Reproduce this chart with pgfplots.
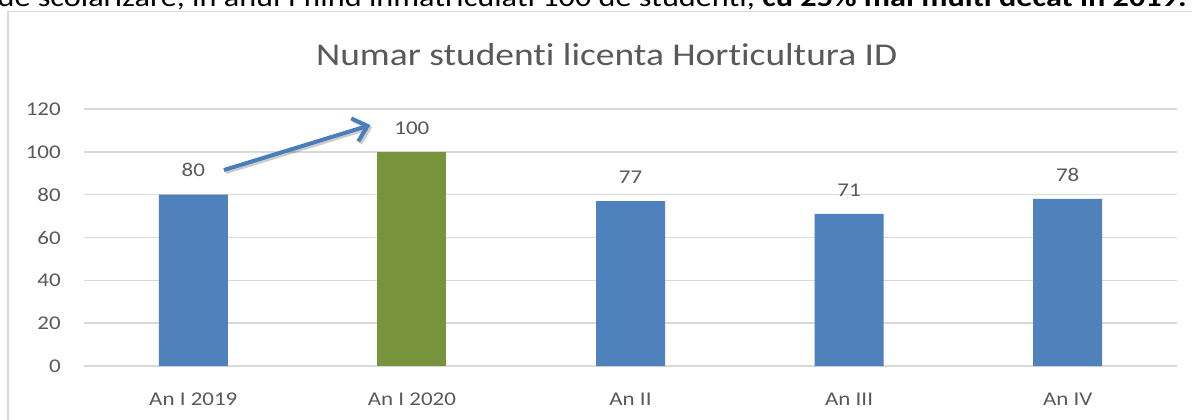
\documentclass[border=0pt]{standalone}
\usepackage{fontspec}
\setmainfont{Carlito}[FakeStretch=1.18, Ligatures=NoCommon]
\usepackage{pgfplots}
\pgfplotsset{compat=1.18}
\usetikzlibrary{arrows.meta}
\definecolor{barblue}{HTML}{4F81BD}
\definecolor{bargreen}{HTML}{77933C}
\definecolor{gridgray}{HTML}{D9D9D9}
\definecolor{txtgray}{HTML}{595959}
\definecolor{arrowblue}{HTML}{4A7EBB}
\begin{document}
\begin{tikzpicture}
\path[use as bounding box] (0pt,0pt) rectangle (894pt,314.25pt);
\clip (0pt,0pt) rectangle (894pt,314.25pt);
\node[anchor=base west, inner sep=0pt, font=\fontsize{20.5}{24}\selectfont] at (-2pt,309.5pt)
  {de scolarizare, in anul I fiind inmatriculati 100 de studenti, \textbf{cu 25\% mai multi decat in 2019.}};
\draw[gridgray, line width=1.1pt] (6pt,-5pt) -- (6pt,305.6pt) -- (900pt,305.6pt);
\node[anchor=base, inner sep=0pt, text=txtgray, font=\fontsize{23.8}{28}\selectfont] at (455pt,265.5pt)
  {Numar studenti licenta Horticultura ID};
\begin{axis}[
  at={(63pt,39.75pt)}, anchor=south west,
  scale only axis, width=819.75pt, height=192.75pt,
  xmin=-0.5, xmax=4.5, ymin=0, ymax=120,
  ytick={0,20,...,120}, xtick={0,1,2,3,4},
  xticklabels={An I 2019, An I 2020, An II, An III, An IV},
  axis line style={draw=none},
  major tick length=0pt,
  ymajorgrids, grid style={gridgray, line width=1.1pt},
  ybar, bar width=51.75pt,
  tick label style={font=\fontsize{14.6}{17}\selectfont, text=txtgray},
  /pgf/number format/assume math mode=true,
  yticklabel style={anchor=east, inner sep=0pt, xshift=-17.25pt},
  xticklabel style={anchor=base, inner sep=0pt, yshift=-29.25pt},
  nodes near coords,
  nodes near coords style={font=\fontsize{14.6}{17}\selectfont, text=txtgray, anchor=south, inner sep=0pt, yshift=13pt},
  clip=false,
]
\addplot[fill=barblue, draw=none, bar shift=0pt] coordinates {(0,80) (2,77) (3,71) (4,78)};
\addplot[fill=bargreen, draw=none, bar shift=0pt] coordinates {(1,100)};
\draw[black, opacity=0.2, line width=3pt, -{Straight Barb[length=10pt,width=18pt]}]
  ([xshift=1.5pt,yshift=-1.5pt]axis cs:0.14,91.5) -- ([xshift=1.5pt,yshift=-1.5pt]axis cs:0.81,112.5);
\draw[arrowblue, line width=3pt, -{Straight Barb[length=10pt,width=18pt]}]
  (axis cs:0.14,91.5) -- (axis cs:0.81,112.5);
\end{axis}
\end{tikzpicture}
\end{document}
